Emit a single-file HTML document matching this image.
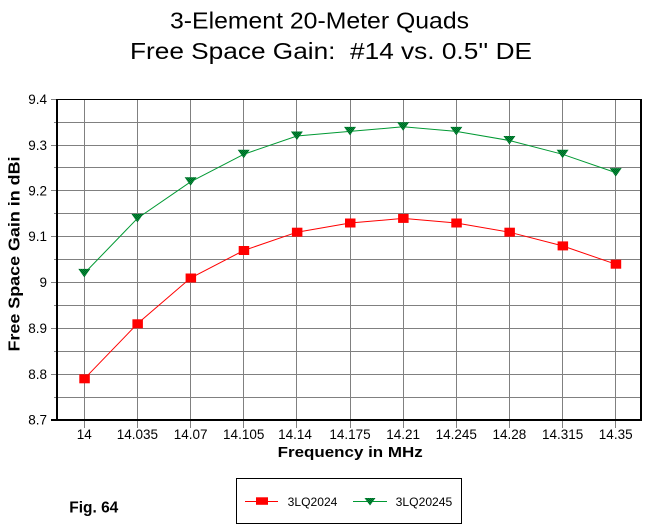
<!DOCTYPE html>
<html><head><meta charset="utf-8"><style>
html,body{margin:0;padding:0;background:#fff;}
svg{display:block;}
text{font-family:"Liberation Sans",Arial,sans-serif;}
</style></head><body>
<svg width="646" height="529" viewBox="0 0 646 529" xmlns="http://www.w3.org/2000/svg">
<defs>
<pattern id="chk" width="2" height="2" patternUnits="userSpaceOnUse">
<rect width="2" height="2" fill="#009933"/>
<rect width="1" height="1" fill="#005a28"/>
<rect x="1" y="1" width="1" height="1" fill="#005a28"/>
</pattern>
</defs>
<rect width="646" height="529" fill="#fff"/>
<!-- titles -->
<text x="170" y="28.5" font-size="23" textLength="299" lengthAdjust="spacingAndGlyphs" fill="#000">3-Element 20-Meter Quads</text>
<text x="130" y="59" font-size="23" textLength="402" lengthAdjust="spacingAndGlyphs" fill="#000" xml:space="preserve">Free Space Gain:  #14 vs. 0.5'' DE</text>

<!-- horizontal gridlines -->
<g stroke="#808080" stroke-width="1" shape-rendering="crispEdges">
<line x1="54" y1="397.5" x2="640" y2="397.5"/>
<line x1="51" y1="374.5" x2="640" y2="374.5"/>
<line x1="54" y1="351.5" x2="640" y2="351.5"/>
<line x1="51" y1="328.5" x2="640" y2="328.5"/>
<line x1="54" y1="305.5" x2="640" y2="305.5"/>
<line x1="51" y1="282.5" x2="640" y2="282.5"/>
<line x1="54" y1="259.5" x2="640" y2="259.5"/>
<line x1="51" y1="236.5" x2="640" y2="236.5"/>
<line x1="54" y1="213.5" x2="640" y2="213.5"/>
<line x1="51" y1="190.5" x2="640" y2="190.5"/>
<line x1="54" y1="167.5" x2="640" y2="167.5"/>
<line x1="51" y1="145.5" x2="640" y2="145.5"/>
<line x1="54" y1="122.5" x2="640" y2="122.5"/>
<line x1="51" y1="99.5" x2="57" y2="99.5"/>
<!-- vertical gridlines -->
<line x1="84.5" y1="100" x2="84.5" y2="428"/>
<line x1="137.5" y1="100" x2="137.5" y2="428"/>
<line x1="190.5" y1="100" x2="190.5" y2="428"/>
<line x1="243.5" y1="100" x2="243.5" y2="428"/>
<line x1="296.5" y1="100" x2="296.5" y2="428"/>
<line x1="350.5" y1="100" x2="350.5" y2="428"/>
<line x1="403.5" y1="100" x2="403.5" y2="428"/>
<line x1="456.5" y1="100" x2="456.5" y2="428"/>
<line x1="509.5" y1="100" x2="509.5" y2="428"/>
<line x1="562.5" y1="100" x2="562.5" y2="428"/>
<line x1="615.5" y1="100" x2="615.5" y2="428"/>
</g>
<!-- axes / border -->
<g fill="#000" shape-rendering="crispEdges">
<rect x="56" y="99" width="586" height="1"/>
<rect x="640" y="99" width="2" height="322"/>
<rect x="56" y="99" width="2" height="322"/>
<rect x="51" y="419" width="591" height="2"/>
</g>

<!-- y tick labels -->
<g font-size="13.5" fill="#000" text-anchor="end">
<text x="47" y="104">9.4</text>
<text x="47" y="150">9.3</text>
<text x="47" y="195.5">9.2</text>
<text x="47" y="241">9.1</text>
<text x="47" y="287">9</text>
<text x="47" y="333">8.9</text>
<text x="47" y="379">8.8</text>
<text x="47" y="424.5">8.7</text>
</g>
<!-- x tick labels -->
<g font-size="13.5" fill="#000" text-anchor="middle">
<text x="84.3" y="439">14</text>
<text x="137.4" y="439">14.035</text>
<text x="190.6" y="439">14.07</text>
<text x="243.7" y="439">14.105</text>
<text x="295" y="439">14.14</text>
<text x="350" y="439">14.175</text>
<text x="403.1" y="439">14.21</text>
<text x="456.3" y="439">14.245</text>
<text x="509.4" y="439">14.28</text>
<text x="562.6" y="439">14.315</text>
<text x="615.7" y="439">14.35</text>
</g>
<!-- axis titles -->
<text x="277.7" y="457" font-size="15" font-weight="bold" textLength="145" lengthAdjust="spacingAndGlyphs" fill="#000">Frequency in MHz</text>
<text transform="translate(19.5,254) rotate(-90)" x="0" y="0" font-size="16" font-weight="bold" text-anchor="middle" textLength="195" lengthAdjust="spacingAndGlyphs" fill="#000">Free Space Gain in dBi</text>

<!-- green series -->
<polyline fill="none" stroke="#009933" stroke-width="1" points="84.3,273.4 137.4,218.4 190.6,181.8 243.7,154.3 296.9,136 350,131.4 403.1,126.8 456.3,131.4 509.4,140.5 562.6,154.3 615.7,172.6"/>
<g fill="url(#chk)">
<polygon points="78.3,268.9 90.3,268.9 84.3,277.4"/>
<polygon points="131.4,213.9 143.4,213.9 137.4,222.4"/>
<polygon points="184.6,177.3 196.6,177.3 190.6,185.8"/>
<polygon points="237.7,149.8 249.7,149.8 243.7,158.3"/>
<polygon points="290.9,131.5 302.9,131.5 296.9,140"/>
<polygon points="344,126.9 356,126.9 350,135.4"/>
<polygon points="397.1,122.3 409.1,122.3 403.1,130.8"/>
<polygon points="450.3,126.9 462.3,126.9 456.3,135.4"/>
<polygon points="503.4,136 515.4,136 509.4,144.5"/>
<polygon points="556.6,149.8 568.6,149.8 562.6,158.3"/>
<polygon points="609.7,168.1 621.7,168.1 615.7,176.6"/>
</g>

<!-- red series -->
<polyline fill="none" stroke="#ff0000" stroke-width="1" points="84.3,378.8 137.4,323.8 190.6,278 243.7,250.5 296.9,232.2 350,223 403.1,218.4 456.3,223 509.4,232.2 562.6,245.9 615.7,264.2"/>
<g fill="#ff0000">
<rect x="79.3" y="374.3" width="10.5" height="9"/>
<rect x="132.4" y="319.3" width="10.5" height="9"/>
<rect x="185.6" y="273.5" width="10.5" height="9"/>
<rect x="238.7" y="246" width="10.5" height="9"/>
<rect x="291.9" y="227.7" width="10.5" height="9"/>
<rect x="345" y="218.5" width="10.5" height="9"/>
<rect x="398.1" y="213.9" width="10.5" height="9"/>
<rect x="451.3" y="218.5" width="10.5" height="9"/>
<rect x="504.4" y="227.7" width="10.5" height="9"/>
<rect x="557.6" y="241.4" width="10.5" height="9"/>
<rect x="610.7" y="259.7" width="10.5" height="9"/>
</g>

<!-- Fig label -->
<text x="69.3" y="512.7" font-size="16" font-weight="bold" textLength="49" lengthAdjust="spacingAndGlyphs" fill="#000">Fig. 64</text>

<!-- legend -->
<rect x="236.5" y="478.5" width="225" height="45" fill="#fff" stroke="#000" stroke-width="1" shape-rendering="crispEdges"/>
<line x1="245" y1="501.5" x2="278" y2="501.5" stroke="#ff0000" stroke-width="1"/>
<rect x="256" y="497.3" width="12" height="7.5" fill="#ff0000"/>
<text x="287.7" y="506" font-size="12" textLength="49.7" lengthAdjust="spacingAndGlyphs" fill="#000">3LQ2024</text>
<line x1="353" y1="501.5" x2="387" y2="501.5" stroke="#009933" stroke-width="1"/>
<polygon points="364.5,498 375.5,498 370,505.5" fill="url(#chk)"/>
<text x="395.7" y="506" font-size="12" textLength="56.6" lengthAdjust="spacingAndGlyphs" fill="#000">3LQ20245</text>
</svg>
</body></html>
